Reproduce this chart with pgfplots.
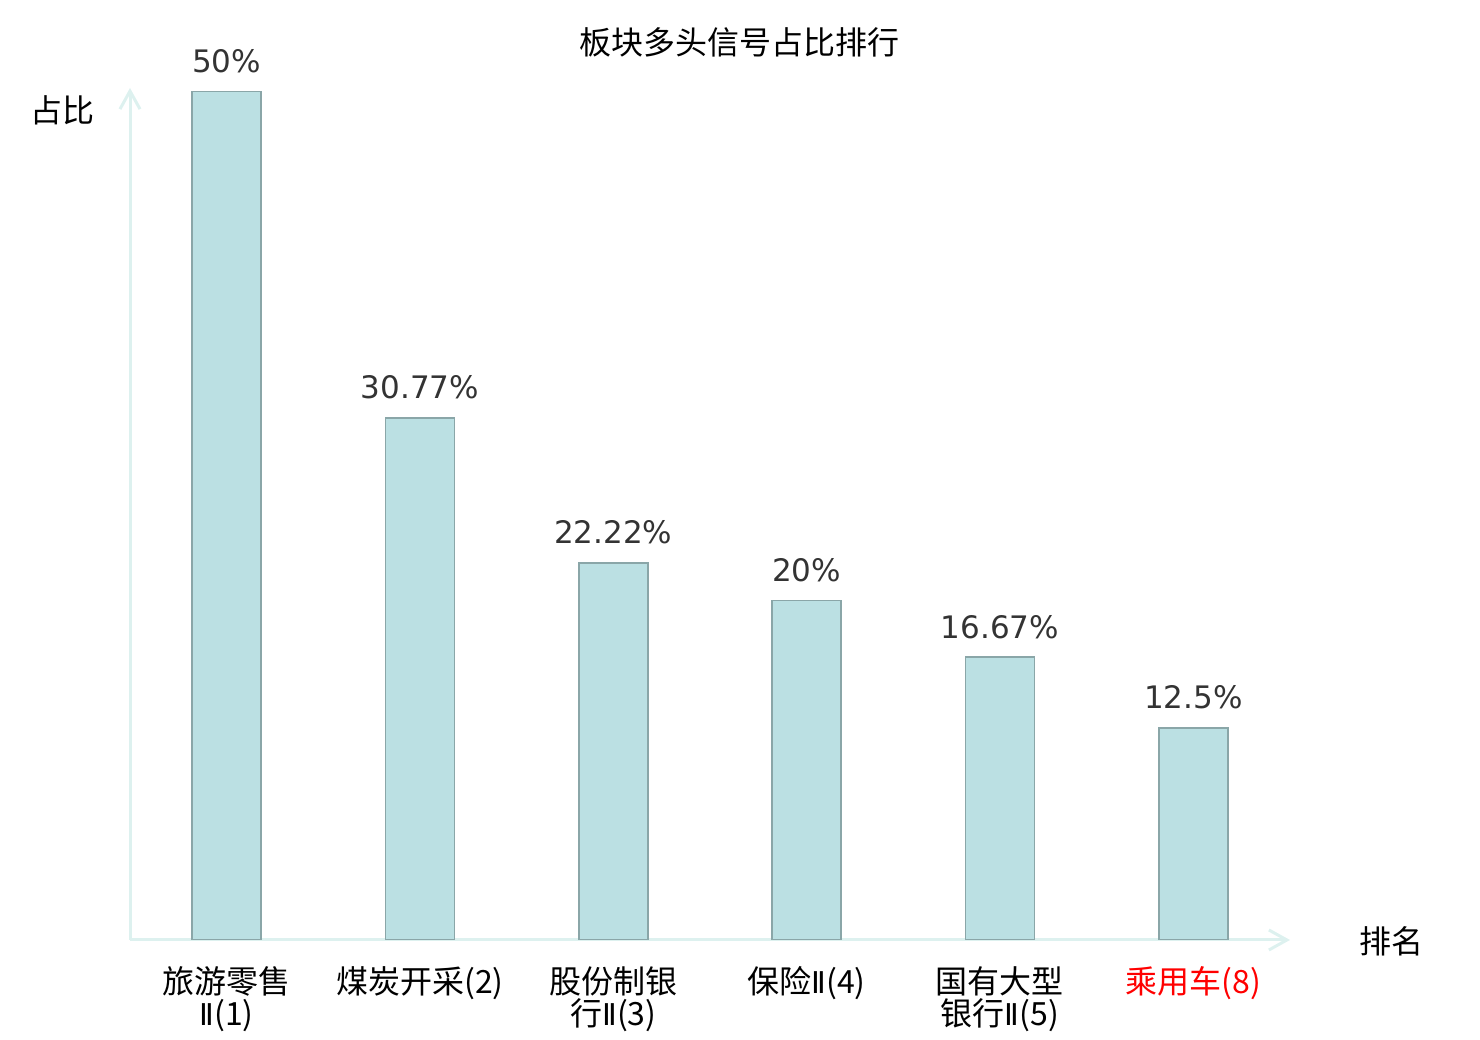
\documentclass[border=0pt]{standalone}
\usepackage{fontspec}
\setmainfont{DejaVu Sans}
\newfontfamily\cjk{Noto Sans CJK SC}
\newfontfamily\dejavu{DejaVu Sans}
\newcommand{\II}{{\dejavu\fontsize{15pt}{16pt}\selectfont Ⅱ}}
\usepackage{pgfplots}
\pgfplotsset{compat=1.18}
\usetikzlibrary{arrows.meta}
\definecolor{barfill}{HTML}{BBE0E3}
\definecolor{baredge}{HTML}{8AA6A8}
\definecolor{axline}{HTML}{DDF1EF}
\definecolor{lbl}{HTML}{333333}
\begin{document}
\begin{tikzpicture}
\useasboundingbox (0,0) rectangle (740pt,520pt);
\begin{axis}[
  at={(65pt,50pt)}, anchor=south west,
  scale only axis, width=580pt, height=426pt,
  xmin=-0.5, xmax=5.5, ymin=0, ymax=50.2,
  enlargelimits=false,
  axis lines=left,
  axis line style={draw=axline, line width=1.5pt, -{Straight Barb[length=9pt,width=10pt]}},
  ytick=\empty,
  xtick={0,1,2,3,4,5},
  major tick length=0pt,
  xticklabels={{旅游零售\\\II(1)},{煤炭开采(2)\\\mbox{}},{股份制银\\行\II(3)},{保险\II(4)\\\mbox{}},{国有大型\\银行\II(5)},{\color{red}乘用车(8)\\\mbox{}}},
  xticklabel style={font=\cjk\fontsize{16pt}{16pt}\selectfont, align=center, anchor=base, yshift=-42.5pt, inner sep=0pt, text=black},
  ybar, bar width=34.5pt,
  /pgf/number format/assume math mode=true,
  point meta=y,
  nodes near coords={\pgfmathprintnumber{\pgfplotspointmeta}\%},
  nodes near coords style={font=\fontsize{15.5pt}{18pt}\selectfont, text=lbl, anchor=base, inner sep=0pt, yshift=9.5pt},
]
\addplot[fill=barfill, draw=baredge, line width=0.8pt] coordinates {
  (0,50) (1,30.77) (2,22.22) (3,20) (4,16.67) (5,12.5)
};
\end{axis}
\node[font=\cjk\fontsize{16pt}{18pt}\selectfont, anchor=center] at (369.5pt,499pt) {板块多头信号占比排行};
\node[font=\cjk\fontsize{16pt}{18pt}\selectfont, anchor=center] at (31.5pt,465pt) {占比};
\node[font=\cjk\fontsize{16pt}{18pt}\selectfont, anchor=center] at (695.5pt,49.5pt) {排名};
\end{tikzpicture}
\end{document}
